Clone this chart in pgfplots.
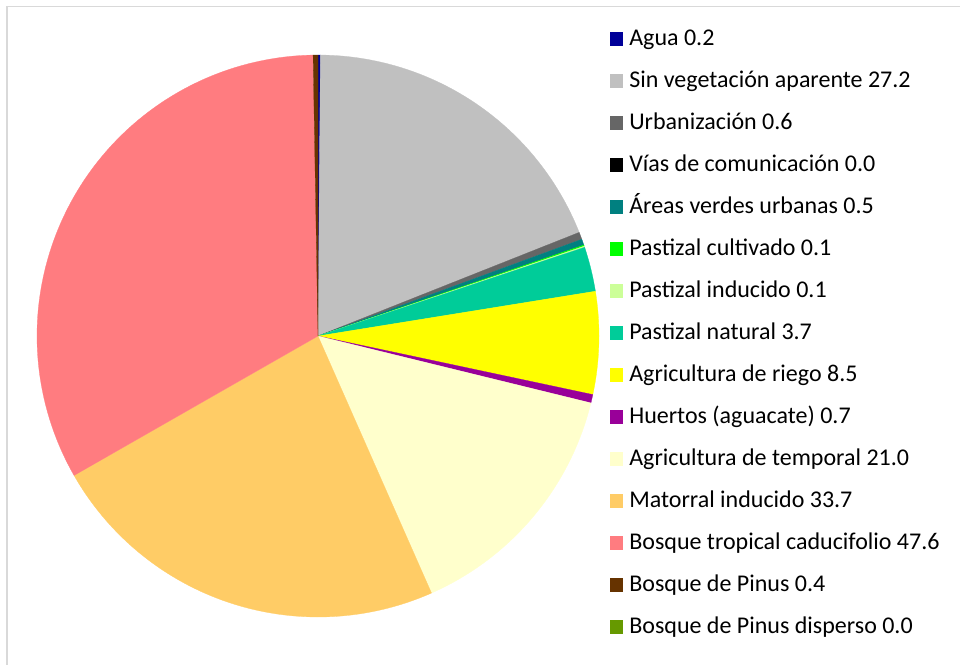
\documentclass[border=0pt]{standalone}
\usepackage{fontspec}
\setmainfont{Carlito}
\usepackage{pgfplots}
\pgfplotsset{compat=1.18}

\definecolor{cAgua}{RGB}{0,0,153}
\definecolor{cSin}{RGB}{192,192,192}
\definecolor{cUrb}{RGB}{102,102,102}
\definecolor{cVias}{RGB}{0,0,0}
\definecolor{cAreas}{RGB}{0,128,128}
\definecolor{cPcult}{RGB}{0,255,0}
\definecolor{cPind}{RGB}{204,255,153}
\definecolor{cPnat}{RGB}{0,204,153}
\definecolor{cRiego}{RGB}{255,255,0}
\definecolor{cHuertos}{RGB}{153,0,153}
\definecolor{cTemp}{RGB}{255,255,204}
\definecolor{cMat}{RGB}{255,204,102}
\definecolor{cBtc}{RGB}{255,124,128}
\definecolor{cPinus}{RGB}{102,51,0}
\definecolor{cPinusd}{RGB}{102,153,0}
\definecolor{frame}{RGB}{217,217,217}

\def\total{144.3}
\gdef\cum{0}
\newcommand\slice[2]{%
  \pgfmathsetmacro\sa{90-(\cum/\total)*360}%
  \pgfmathsetmacro\newcum{\cum+#1}%
  \pgfmathsetmacro\sb{90-(\newcum/\total)*360}%
  \xdef\cum{\newcum}%
  \ifdim #1pt>0pt
    \edef\doslice{\noexpand\addplot[fill=#2, draw=#2, line width=0.2pt, forget plot, domain=\sb:\sa, samples=120] ({cos(x)},{sin(x)}) -- (axis cs:0,0) -- cycle;}%
    \doslice
  \fi
}
\newcommand\entry[2]{\addlegendimage{fill=#1, draw=none}\addlegendentry{#2}}

\begin{document}
\begin{tikzpicture}
\useasboundingbox (0,0) rectangle (720pt,-498pt);
\draw[frame, line width=1.1pt] (5.25pt,-520pt) |- (740pt,-4.9pt);
\begin{axis}[
  at={(238.5pt,-252pt)}, anchor=origin,
  x=210.75pt, y=210.75pt,
  xmin=-1.05, xmax=1.05, ymin=-1.05, ymax=1.05,
  hide axis, clip=false,
  legend image code/.code={\fill[#1] (0pt,-0.3pt) rectangle (10pt,9.7pt);},
  legend style={draw=none, fill=none, inner sep=0pt, outer sep=0pt,
    at={(0.9948,1.0152)}, anchor=north west,
    font=\fontsize{18}{21}\selectfont,
    row sep=18.5pt, column sep=4.5pt,
    nodes={inner sep=0pt, text height=10pt, text depth=3pt},
    cells={anchor=base west}},
]
\slice{0.2}{cAgua}
\slice{27.2}{cSin}
\slice{0.6}{cUrb}
\slice{0.0}{cVias}
\slice{0.5}{cAreas}
\slice{0.1}{cPcult}
\slice{0.1}{cPind}
\slice{3.7}{cPnat}
\slice{8.5}{cRiego}
\slice{0.7}{cHuertos}
\slice{21.0}{cTemp}
\slice{33.7}{cMat}
\slice{47.6}{cBtc}
\slice{0.4}{cPinus}
\slice{0.0}{cPinusd}

\entry{cAgua}{Agua 0.2}
\entry{cSin}{Sin vegetación aparente 27.2}
\entry{cUrb}{Urbanización 0.6}
\entry{cVias}{Vías de comunicación 0.0}
\entry{cAreas}{Áreas verdes urbanas 0.5}
\entry{cPcult}{Pastizal cultivado 0.1}
\entry{cPind}{Pastizal inducido 0.1}
\entry{cPnat}{Pastizal natural 3.7}
\entry{cRiego}{Agricultura de riego 8.5}
\entry{cHuertos}{Huertos (aguacate) 0.7}
\entry{cTemp}{Agricultura de temporal 21.0}
\entry{cMat}{Matorral inducido 33.7}
\entry{cBtc}{Bosque tropical caducifolio 47.6}
\entry{cPinus}{Bosque de Pinus 0.4}
\entry{cPinusd}{Bosque de Pinus disperso 0.0}
\end{axis}
\end{tikzpicture}
\end{document}
